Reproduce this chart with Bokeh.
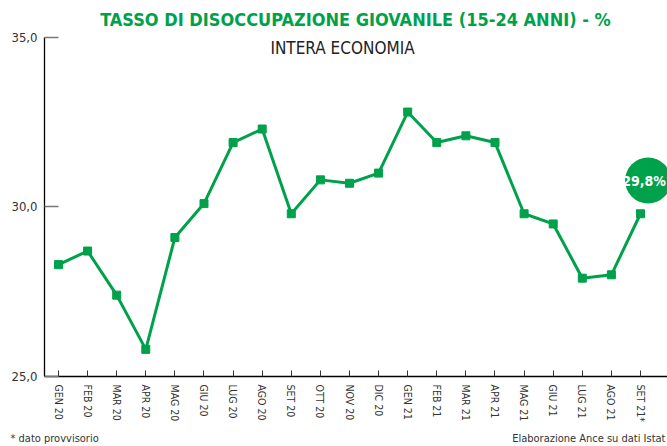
from bokeh.plotting import figure
from bokeh.models import Range1d, FixedTicker, Label
from bokeh.core.properties import value
from bokeh.embed import file_html
from bokeh.resources import INLINE

months = ["GEN 20", "FEB 20", "MAR 20", "APR 20", "MAG 20", "GIU 20", "LUG 20",
          "AGO 20", "SET 20", "OTT 20", "NOV 20", "DIC 20", "GEN 21", "FEB 21",
          "MAR 21", "APR 21", "MAG 21", "GIU 21", "LUG 21", "AGO 21", "SET 21*"]
rate = [28.3, 28.7, 27.4, 25.8, 29.1, 30.1, 31.9, 32.3, 29.8, 30.8, 30.7, 31.0,
        32.8, 31.9, 32.1, 31.9, 29.8, 29.5, 27.9, 28.0, 29.8]
y_ticks = [25, 30, 35]

title_text = "TASSO DI DISOCCUPAZIONE GIOVANILE (15-24 ANNI) - %"
subtitle_text = "INTERA ECONOMIA"
note_left = "* dato provvisorio"
note_right = "Elaborazione Ance su dati Istat"

GREEN = "#00a14b"
FONT = "DejaVu Sans Condensed"

xs = list(range(len(months)))
W, H = 667, 446
x0 = -0.481  # x position of the value axis
x_end = 20.928

p = figure(width=W, height=H, output_backend="svg", toolbar_location=None,
           x_range=Range1d(-1.993, x_end), y_range=Range1d(22.935, 36.091),
           min_border_left=0, min_border_right=0, min_border_top=0,
           min_border_bottom=0)
p.outline_line_color = None
p.xgrid.visible = False
p.ygrid.visible = False
p.background_fill_color = "white"
p.border_fill_color = "white"

p.line(xs, rate, line_color=GREEN, line_width=3)
p.scatter(xs, rate, marker="square", size=8, fill_color=GREEN, line_color=GREEN)

# highlighted last value bubble
last_lbl = f"{rate[-1]:.1f}%".replace(".", ",")
p.scatter([xs[-1] + 0.26], [rate[-1] + 0.98], marker="circle", size=46,
          fill_color=GREEN, line_color=None)
p.text([xs[-1] + 0.12], [rate[-1] + 0.98], text=[last_lbl], text_color="white",
       text_font=value(FONT), text_font_style="bold", text_font_size="14px",
       text_align="center", text_baseline="middle")

# axes (fixed in the data space)
p.xaxis.fixed_location = 25
p.xaxis.bounds = (x0, x_end)
p.xaxis.ticker = FixedTicker(ticks=xs)
p.xaxis.major_label_overrides = {i: m for i, m in enumerate(months)}
p.xaxis.major_label_orientation = "vertical"
p.xaxis.major_tick_in = 6
p.xaxis.major_tick_out = 0
p.xaxis.minor_tick_line_color = None
p.xaxis.major_tick_line_color = "#333333"
p.xaxis.axis_line_color = "black"
p.xaxis.axis_line_width = 1.3
p.xaxis.major_label_standoff = 8
p.xaxis.major_label_text_font = FONT
p.xaxis.major_label_text_font_size = "10.5px"
p.xaxis.major_label_text_color = "#333333"

p.yaxis.fixed_location = x0
p.yaxis.bounds = (25, 35)
p.yaxis.ticker = FixedTicker(ticks=y_ticks)
p.yaxis.major_label_overrides = {t: f"{t:.1f}".replace(".", ",") for t in y_ticks}
p.yaxis.major_tick_in = 14
p.yaxis.major_tick_out = 0
p.yaxis.minor_tick_line_color = None
p.yaxis.major_tick_line_color = "#777777"
p.yaxis.major_tick_line_width = 1.3
p.yaxis.axis_line_color = "black"
p.yaxis.axis_line_width = 1.3
p.yaxis.major_label_standoff = 7
p.yaxis.major_label_text_font = FONT
p.yaxis.major_label_text_font_size = "13px"
p.yaxis.major_label_text_color = "#333333"

# titles and notes (screen units, canvas = frame, y measured from bottom)
p.add_layout(Label(x=355, y=H - 19, x_units="screen", y_units="screen", text=title_text,
                   text_font=FONT, text_font_style="bold", text_font_size="18px",
                   text_color=GREEN, text_align="center", text_baseline="middle"))
p.add_layout(Label(x=342, y=H - 47, x_units="screen", y_units="screen", text=subtitle_text,
                   text_font=FONT, text_font_size="17px",
                   text_color="#222222", text_align="center", text_baseline="middle"))
p.add_layout(Label(x=10, y=8, x_units="screen", y_units="screen", text=note_left,
                   text_font=FONT, text_font_size="11px",
                   text_color="#333333", text_align="left", text_baseline="middle"))
p.add_layout(Label(x=W - 2, y=8, x_units="screen", y_units="screen", text=note_right,
                   text_font=FONT, text_font_size="11px",
                   text_color="#333333", text_align="right", text_baseline="middle"))

open("out.html", "w").write(file_html(p, INLINE))
